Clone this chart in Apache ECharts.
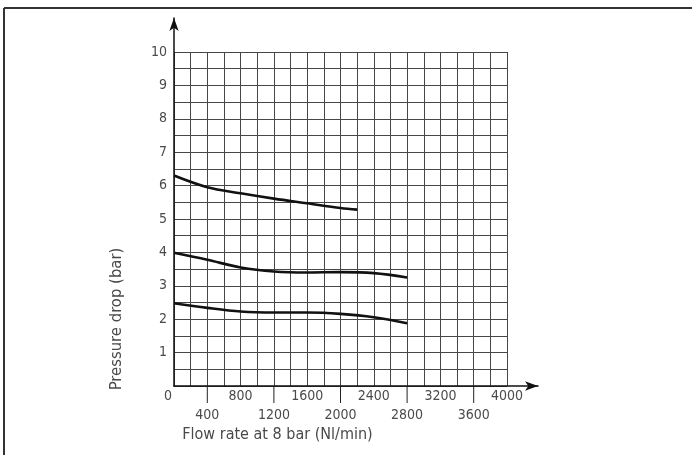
<!DOCTYPE html>
<html>
<head>
<meta charset="utf-8">
<script src="https://cdn.jsdelivr.net/npm/echarts@6/dist/echarts.min.js"></script>
<style>
  html, body { margin: 0; padding: 0; background: #fff; }
  #main { width: 692px; height: 455px; }
</style>
</head>
<body>
<div id="main"></div>
<script>
// data
var flowHigh = [0, 400, 800, 1200, 1600, 2000, 2200];
var dropHigh = [6.30, 5.95, 5.77, 5.61, 5.47, 5.33, 5.28];

var flowMid = [0, 400, 800, 1200, 1600, 2000, 2400, 2800];
var dropMid = [3.99, 3.78, 3.55, 3.43, 3.40, 3.41, 3.38, 3.25];

var flowLow = [0, 400, 800, 1200, 1600, 2000, 2400, 2800];
var dropLow = [2.48, 2.34, 2.23, 2.20, 2.20, 2.16, 2.06, 1.88];

// long ticks below the staggered labels
var longTicks = [400, 1200, 2000, 2800, 3600];

var font = "'Liberation Sans Narrow', 'DejaVu Sans Condensed', sans-serif";
var txtColor = '#4a4a4a';
var gridColor = '#474747';

function pairs(xs, ys) {
  var out = [];
  for (var i = 0; i < xs.length; i++) {
    out.push([xs[i], ys[i]]);
  }
  return out;
}

function curve(xs, ys) {
  return {
    type: 'line',
    data: pairs(xs, ys),
    smooth: 0.35,
    showSymbol: false,
    silent: true,
    lineStyle: { color: '#111', width: 2.6 }
  };
}

var chart = echarts.init(document.getElementById('main'), null, { renderer: 'canvas' });

var option = {
  backgroundColor: '#fff',
  animation: false,
  textStyle: { fontFamily: font },
  grid: [
    { left: 174, right: 185, top: 52, bottom: 69, containLabel: false },
    // bigger grid only used to draw the arrowed axis lines
    { left: 174, right: 154, top: 18, bottom: 69, containLabel: false }
  ],
  xAxis: [{
    type: 'value',
    gridIndex: 0,
    min: 0,
    max: 4000,
    interval: 200,
    name: 'Flow rate at 8 bar (Nl/min)',
    nameLocation: 'middle',
    nameGap: 39,
    nameTextStyle: { fontSize: 16, color: txtColor, fontFamily: font, padding: [0, 126, 0, 0] },
    axisLine: { show: false },
    axisTick: { show: false },
    splitLine: { show: true, lineStyle: { color: gridColor, width: 1 } },
    axisLabel: {
      margin: 3,
      fontSize: 14,
      color: txtColor,
      fontFamily: font,
      showMaxLabel: true,
      formatter: function (v) {
        if (v === 0) return '{z|0}';
        if (v % 800 === 0) return '' + v;
        if (v % 400 === 0) return '{low|' + v + '}';
        return '';
      },
      rich: {
        z: { fontSize: 14, color: txtColor, fontFamily: font, padding: [0, 12, 0, 0] },
        low: { fontSize: 14, color: txtColor, fontFamily: font, padding: [19, 0, 0, 0] }
      }
    }
  }, {
    type: 'value',
    gridIndex: 1,
    min: 0,
    max: 1,
    axisLine: {
      show: true,
      symbol: ['none', 'arrow'],
      symbolSize: [7, 13],
      lineStyle: { color: '#111', width: 1.5 }
    },
    axisTick: { show: false },
    axisLabel: { show: false },
    splitLine: { show: false }
  }],
  yAxis: [{
    type: 'value',
    gridIndex: 0,
    min: 0,
    max: 10,
    interval: 0.5,
    name: 'Pressure drop (bar)',
    nameLocation: 'middle',
    nameGap: 49,
    nameTextStyle: { fontSize: 16.5, color: txtColor, fontFamily: font, padding: [0, 200, 0, 0] },
    axisLine: { show: false },
    axisTick: { show: false },
    splitLine: { show: true, lineStyle: { color: gridColor, width: 1 } },
    axisLabel: {
      margin: 7,
      fontSize: 14,
      color: txtColor,
      fontFamily: font,
      formatter: function (v) {
        if (v === 0 || v % 1 !== 0) return '';
        return '' + v;
      }
    }
  }, {
    type: 'value',
    gridIndex: 1,
    min: 0,
    max: 1,
    axisLine: {
      show: true,
      symbol: ['none', 'arrow'],
      symbolSize: [7, 13],
      lineStyle: { color: '#111', width: 1.5 }
    },
    axisTick: { show: false },
    axisLabel: { show: false },
    splitLine: { show: false }
  }],
  series: [
    curve(flowHigh, dropHigh),
    curve(flowMid, dropMid),
    curve(flowLow, dropLow),
    {
      type: 'custom',
      silent: true,
      clip: false,
      data: longTicks.map(function (v) { return [v, 0]; }),
      renderItem: function (params, api) {
        var p = api.coord([api.value(0), api.value(1)]);
        return {
          type: 'line',
          shape: { x1: p[0], y1: p[1], x2: p[0], y2: p[1] + 17 },
          style: { stroke: '#222', lineWidth: 1 }
        };
      }
    }
  ],
  graphic: [
    // frame round the picture
    { type: 'line', shape: { x1: 4, y1: 8, x2: 692, y2: 8 }, style: { stroke: '#333', lineWidth: 2 }, silent: true },
    { type: 'line', shape: { x1: 4, y1: 8, x2: 4, y2: 455 }, style: { stroke: '#333', lineWidth: 2 }, silent: true }
  ]
};

chart.setOption(option);
</script>
</body>
</html>
